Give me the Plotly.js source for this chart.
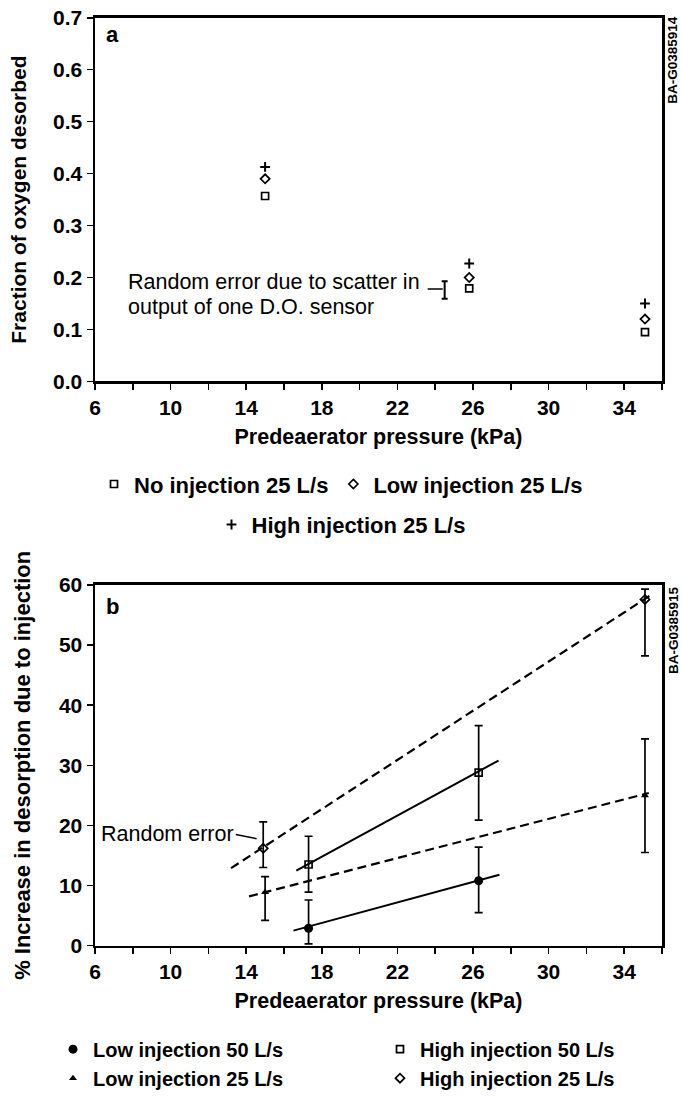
<!DOCTYPE html>
<html>
<head>
<meta charset="utf-8">
<script src="https://cdn.plot.ly/plotly-3.0.1.min.js"></script>
<style>html,body{margin:0;padding:0;background:#fff;}#chart{width:682px;height:1098px;}</style>
</head>
<body>
<div id="chart"></div>
<script>
// ---------- Panel a data ----------
const pressureA = [15.0, 25.8, 35.1];
const noInjection25 = [0.357, 0.179, 0.095];
const lowInjection25A = [0.390, 0.200, 0.120];
const highInjection25A = [0.413, 0.227, 0.150];
const sensorErrX = [24.5];
const sensorErrY = [0.176];
const sensorErrHalf = [0.017];
const sensorLeaderX = [23.6, 24.4];
const sensorLeaderY = [0.178, 0.178];

// ---------- Panel b data ----------
const pressure50 = [17.3, 26.3];
const pressureLow25 = [15.0, 35.1];
const pressureHigh25 = [14.9, 35.1];
const low50 = [2.9, 10.8];
const low50Plus = [4.7, 5.6];
const low50Minus = [2.6, 5.3];
const low25 = [8.9, 25.0];
const low25Plus = [2.6, 9.4];
const low25Minus = [4.7, 9.5];
const high50 = [13.5, 28.8];
const high50Plus = [4.7, 7.8];
const high50Minus = [4.6, 7.9];
const high25 = [16.2, 57.6];
const high25Plus = [4.4, 1.7];
const high25Minus = [3.2, 9.4];
// fitted lines (end points)
const low50FitX = [16.5, 27.4], low50FitY = [2.5, 11.8];
const low25FitX = [14.15, 35.3], low25FitY = [8.2, 25.4];
const high50FitX = [16.65, 27.35], high50FitY = [12.5, 30.8];
const high25FitX = [13.2, 35.4], high25FitY = [12.9, 58.3];
const randomLeaderX = [13.45, 14.55], randomLeaderY = [18.5, 17.8];

const xTicks = [6, 10, 14, 18, 22, 26, 30, 34];
const xTickText = ['6', '10', '14', '18', '22', '26', '30', '34'];

const FONT = 'Liberation Sans, Arial, Helvetica, sans-serif';
const K = '#000';

const traces = [
  // panel a
  {x: pressureA, y: noInjection25, xaxis: 'x', yaxis: 'y', mode: 'markers', name: 'No injection 25 L/s',
   marker: {symbol: 'square-open', size: 7, color: K, line: {width: 1.7, color: K}}, legend: 'legend'},
  {x: pressureA, y: lowInjection25A, xaxis: 'x', yaxis: 'y', mode: 'markers', name: 'Low injection 25 L/s',
   marker: {symbol: 'diamond-open', size: 7, color: K, line: {width: 1.7, color: K}}, legend: 'legend'},
  {x: pressureA, y: highInjection25A, xaxis: 'x', yaxis: 'y', mode: 'markers', name: 'High injection 25 L/s',
   marker: {symbol: 'cross-thin-open', size: 7, color: K, line: {width: 2, color: K}}, legend: 'legend2'},
  {x: sensorErrX, y: sensorErrY, xaxis: 'x', yaxis: 'y', mode: 'markers', showlegend: false,
   marker: {size: 1, color: 'rgba(0,0,0,0)'},
   error_y: {type: 'data', array: sensorErrHalf, color: K, thickness: 2, width: 3}},
  {x: sensorLeaderX, y: sensorLeaderY, xaxis: 'x', yaxis: 'y', mode: 'lines', showlegend: false,
   line: {color: K, width: 1.5}},

  // panel b fitted lines
  {x: low50FitX, y: low50FitY, xaxis: 'x2', yaxis: 'y2', mode: 'lines', showlegend: false, line: {color: K, width: 2}},
  {x: high50FitX, y: high50FitY, xaxis: 'x2', yaxis: 'y2', mode: 'lines', showlegend: false, line: {color: K, width: 2}},
  {x: low25FitX, y: low25FitY, xaxis: 'x2', yaxis: 'y2', mode: 'lines', showlegend: false, line: {color: K, width: 2.2, dash: '9px,5px'}},
  {x: high25FitX, y: high25FitY, xaxis: 'x2', yaxis: 'y2', mode: 'lines', showlegend: false, line: {color: K, width: 2.2, dash: '9px,5px'}},
  {x: randomLeaderX, y: randomLeaderY, xaxis: 'x2', yaxis: 'y2', mode: 'lines', showlegend: false, line: {color: K, width: 1.5}},

  // panel b points
  {x: pressure50, y: low50, xaxis: 'x2', yaxis: 'y2', mode: 'markers', name: 'Low injection 50 L/s', legend: 'legend3',
   marker: {symbol: 'circle', size: 9, color: K},
   error_y: {type: 'data', symmetric: false, array: low50Plus, arrayminus: low50Minus, color: K, thickness: 1.7, width: 4}},
  {x: pressureLow25, y: low25, xaxis: 'x2', yaxis: 'y2', mode: 'markers', name: 'Low injection 25 L/s', legend: 'legend3',
   marker: {symbol: 'triangle-up', size: 7, color: K},
   error_y: {type: 'data', symmetric: false, array: low25Plus, arrayminus: low25Minus, color: K, thickness: 1.7, width: 4}},
  {x: pressure50, y: high50, xaxis: 'x2', yaxis: 'y2', mode: 'markers', name: 'High injection 50 L/s', legend: 'legend4',
   marker: {symbol: 'square-open', size: 7, color: K, line: {width: 1.7, color: K}},
   error_y: {type: 'data', symmetric: false, array: high50Plus, arrayminus: high50Minus, color: K, thickness: 1.7, width: 4}},
  {x: pressureHigh25, y: high25, xaxis: 'x2', yaxis: 'y2', mode: 'markers', name: 'High injection 25 L/s', legend: 'legend4',
   marker: {symbol: 'diamond-open', size: 7, color: K, line: {width: 1.7, color: K}},
   error_y: {type: 'data', symmetric: false, array: high25Plus, arrayminus: high25Minus, color: K, thickness: 1.7, width: 4}}
];

const W = 682, H = 1098;
const px = v => v / W;
const py = v => 1 - v / H;

const tickFont = {family: FONT, size: 21, color: K, weight: 'bold'};
const xTitleFont = {family: FONT, size: 21.5, color: K, weight: 'bold'};

function xAxis(anchor) {
  return {
    domain: [px(95), px(662)], range: [6, 36], anchor: anchor,
    tickmode: 'array', tickvals: xTicks, ticktext: xTickText,
    ticks: 'outside', ticklen: 6, tickwidth: 1.5, tickcolor: K,
    minor: {dtick: 2, tick0: 6, ticks: 'outside', ticklen: 6, tickwidth: 1.5, tickcolor: K, showgrid: false},
    showline: true, linewidth: 2.5, linecolor: K, mirror: true,
    showgrid: false, zeroline: false, tickfont: tickFont,
    title: {text: 'Predeaerator pressure (kPa)', font: xTitleFont, standoff: 11}
  };
}

const layout = {
  width: W, height: H,
  margin: {l: 0, r: 0, t: 0, b: 0},
  paper_bgcolor: '#fff', plot_bgcolor: '#fff',
  font: {family: FONT, color: K},
  xaxis: xAxis('y'),
  yaxis: {
    domain: [py(386), py(18)], range: [0, 0.7], anchor: 'x',
    tickmode: 'linear', tick0: 0, dtick: 0.1, tickformat: '.1f',
    ticks: 'outside', ticklen: 6, tickwidth: 1.5, tickcolor: K,
    showline: true, linewidth: 2.5, linecolor: K, mirror: true,
    showgrid: false, zeroline: false, tickfont: tickFont,
    title: {text: 'Fraction of oxygen desorbed', font: {family: FONT, size: 21, color: K, weight: 'bold'}, standoff: 21}
  },
  xaxis2: xAxis('y2'),
  yaxis2: {
    domain: [py(957), py(592)], range: [0, 60], anchor: 'x2',
    tickmode: 'linear', tick0: 0, dtick: 10,
    ticks: 'outside', ticklen: 6, tickwidth: 1.5, tickcolor: K,
    showline: true, linewidth: 2.5, linecolor: K, mirror: true,
    showgrid: false, zeroline: false, tickfont: tickFont,
    title: {text: '% Increase in desorption due to injection', font: {family: FONT, size: 22, color: K, weight: 'bold'}, standoff: 22}
  },
  legend: {orientation: 'h', x: 0.5, xanchor: 'center', y: py(490), yanchor: 'middle',
           font: {family: FONT, size: 22, color: K, weight: 'bold'}, itemwidth: 30, bgcolor: 'rgba(0,0,0,0)'},
  legend2: {orientation: 'h', x: 0.5, xanchor: 'center', y: py(531), yanchor: 'middle',
            font: {family: FONT, size: 22, color: K, weight: 'bold'}, itemwidth: 30, bgcolor: 'rgba(0,0,0,0)'},
  legend3: {orientation: 'v', x: px(53), xanchor: 'left', y: py(1042), yanchor: 'top', tracegroupgap: 0,
            font: {family: FONT, size: 20, color: K, weight: 'bold'}, itemwidth: 30, bgcolor: 'rgba(0,0,0,0)'},
  legend4: {orientation: 'v', x: px(380), xanchor: 'left', y: py(1042), yanchor: 'top', tracegroupgap: 0,
            font: {family: FONT, size: 20, color: K, weight: 'bold'}, itemwidth: 30, bgcolor: 'rgba(0,0,0,0)'},
  annotations: [
    {text: 'a', xref: 'paper', yref: 'paper', x: px(104), y: py(20), xanchor: 'left', yanchor: 'top', showarrow: false,
     font: {family: FONT, size: 22, color: K, weight: 'bold'}},
    {text: 'b', xref: 'paper', yref: 'paper', x: px(104), y: py(599), xanchor: 'left', yanchor: 'top', showarrow: false,
     font: {family: FONT, size: 22, color: K, weight: 'bold'}},
    {text: 'BA-G0385914', xref: 'paper', yref: 'paper', x: px(673), y: py(14), xanchor: 'center', yanchor: 'top',
     textangle: -90, showarrow: false, font: {family: FONT, size: 13.5, color: K, weight: 'bold'}},
    {text: 'BA-G0385915', xref: 'paper', yref: 'paper', x: px(673), y: py(591), xanchor: 'center', yanchor: 'top',
     textangle: -90, showarrow: false, font: {family: FONT, size: 13.5, color: K, weight: 'bold'}},
    {text: 'Random error due to scatter in', xref: 'x', yref: 'y', x: 7.62, y: 0.192, xanchor: 'left', yanchor: 'middle',
     showarrow: false, font: {family: FONT, size: 21.5, color: K}},
    {text: 'output of one D.O. sensor', xref: 'x', yref: 'y', x: 7.62, y: 0.144, xanchor: 'left', yanchor: 'middle',
     showarrow: false, font: {family: FONT, size: 21.5, color: K}},
    {text: 'Random error', xref: 'x2', yref: 'y2', x: 13.45, y: 18.6, xanchor: 'right', yanchor: 'middle',
     showarrow: false, font: {family: FONT, size: 21.5, color: K}}
  ]
};

Plotly.newPlot('chart', traces, layout, {staticPlot: true, displayModeBar: false});
</script>
</body>
</html>
